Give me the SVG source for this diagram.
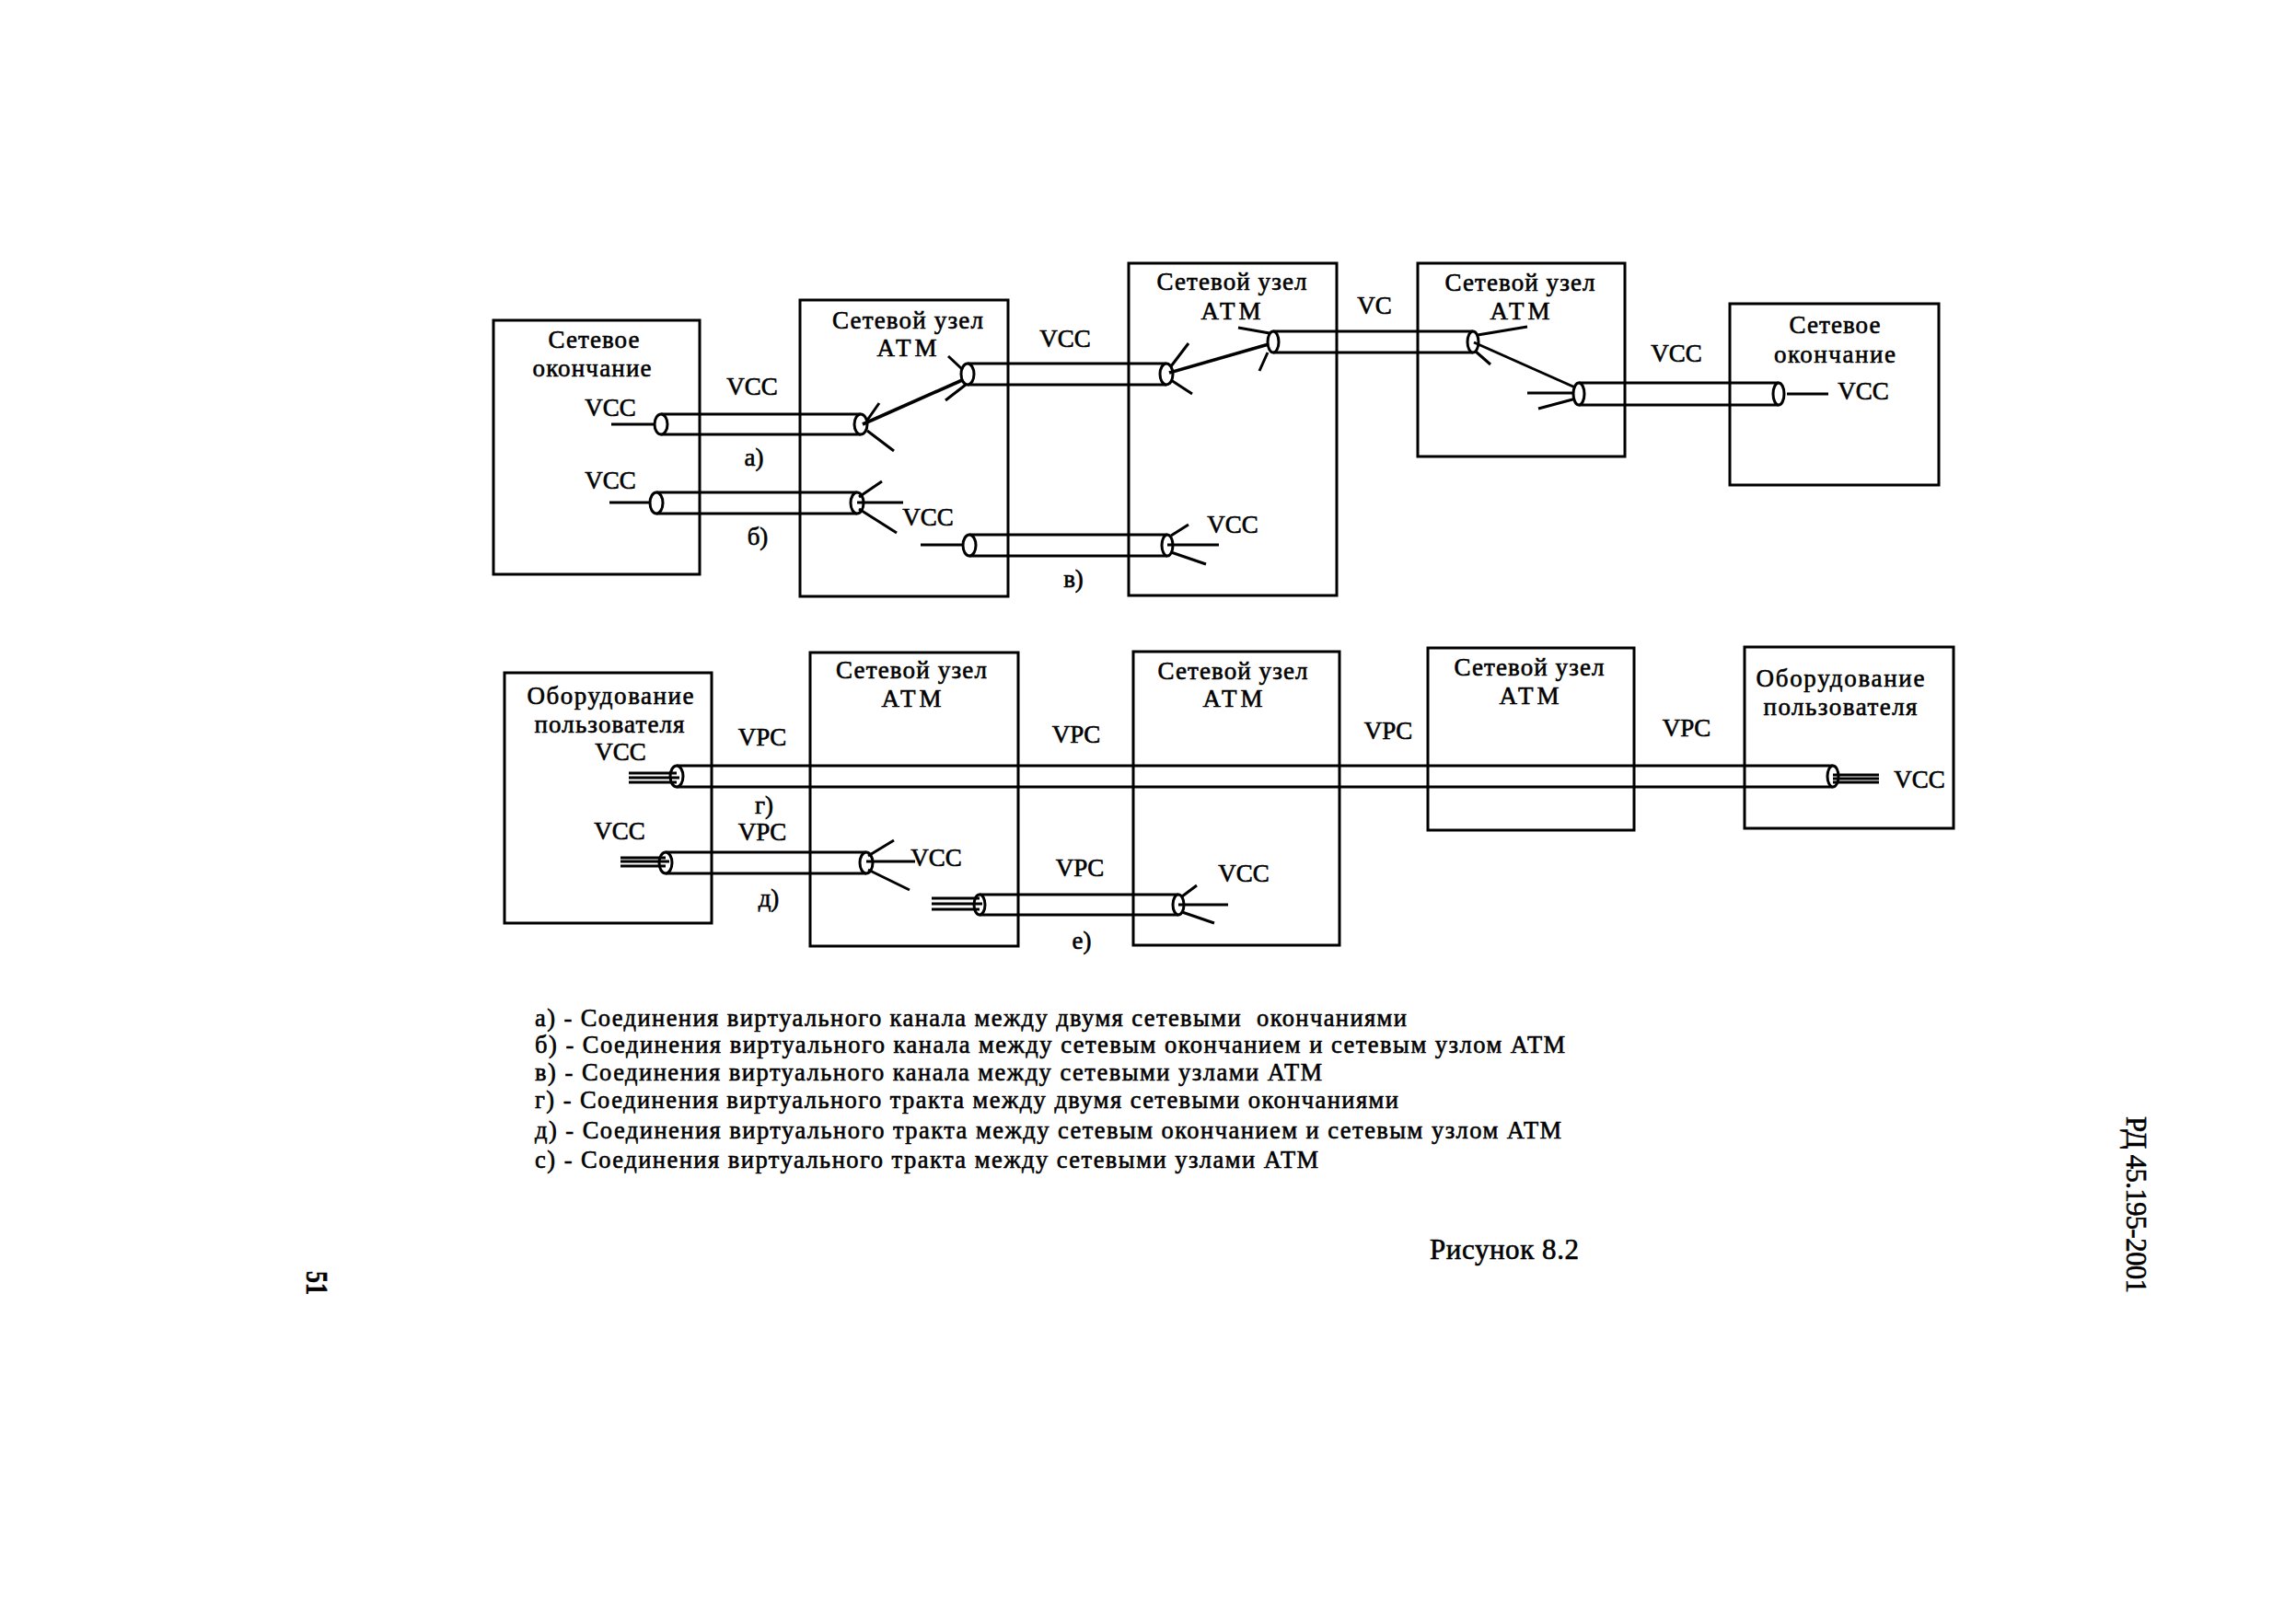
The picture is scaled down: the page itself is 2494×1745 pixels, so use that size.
<svg xmlns="http://www.w3.org/2000/svg" width="2494" height="1745" viewBox="0 0 2494 1745">
<style>
text{font-family:"Liberation Serif","Noto Sans CJK SC",serif;font-size:27px;fill:#000;stroke:#000;stroke-width:.6;text-anchor:middle}
.l{text-anchor:start;font-size:26.5px}
.b{fill:none;stroke:#000;stroke-width:3}
.c{stroke:#000;stroke-width:3;fill:none}
.t{stroke-width:3.6}
.e{fill:#fff;stroke:#000;stroke-width:3}
</style>
<rect width="2494" height="1745" fill="#fff"/>
<g id="node-endpoint-1"><rect class="b" x="536" y="348" width="224" height="276"/><text x="645" y="378" textLength="99">Сетевое</text><text x="643" y="409" textLength="129">окончание</text></g>
<g id="node-atm-1"><rect class="b" x="869" y="326" width="226" height="322"/><text x="986" y="357" textLength="164">Сетевой узел</text><text x="985" y="387" textLength="65">ATM</text></g>
<g id="node-atm-2"><rect class="b" x="1226" y="286" width="226" height="361"/><text x="1338" y="315" textLength="163">Сетевой узел</text><text x="1337" y="347" textLength="65">ATM</text></g>
<g id="node-atm-3"><rect class="b" x="1540" y="286" width="225" height="210"/><text x="1651" y="316" textLength="163">Сетевой узел</text><text x="1651" y="347" textLength="65">ATM</text></g>
<g id="node-endpoint-2"><rect class="b" x="1879" y="330" width="227" height="197"/><text x="1993" y="362" textLength="99">Сетевое</text><text x="1993" y="394" textLength="132">окончание</text></g>
<g id="node-user-1"><rect class="b" x="548" y="731" width="225" height="272"/><text x="663" y="765" textLength="181">Оборудование</text><text x="662" y="796" textLength="163">пользователя</text></g>
<g id="node-atm-4"><rect class="b" x="880" y="709" width="226" height="319"/><text x="990" y="737" textLength="164">Сетевой узел</text><text x="990" y="768" textLength="65">ATM</text></g>
<g id="node-atm-5"><rect class="b" x="1231" y="708" width="224" height="319"/><text x="1339" y="738" textLength="163">Сетевой узел</text><text x="1339" y="768" textLength="65">ATM</text></g>
<g id="node-atm-6"><rect class="b" x="1551" y="704" width="224" height="198"/><text x="1661" y="734" textLength="163">Сетевой узел</text><text x="1661" y="765" textLength="65">ATM</text></g>
<g id="node-user-2"><rect class="b" x="1895" y="703" width="227" height="197"/><text x="1999" y="746" textLength="183">Оборудование</text><text x="1999" y="777" textLength="167">пользователя</text></g>
<g id="connectors">
<!-- a, first span -->
<path class="c" d="M718 450H935M718 472H935M664 461H716M941 458L955 438M942 468L971 490"/>
<ellipse class="e" cx="718" cy="461" rx="7" ry="11"/><ellipse class="e" cx="935" cy="461" rx="7" ry="11"/>
<path class="c t" d="M937 461L1052 410"/>
<!-- a, second span -->
<path class="c" d="M1051 395H1267M1051 418H1267M1030 387L1045 401M1027 435L1049 418M1272 398L1291 373M1272 413L1295 428"/>
<ellipse class="e" cx="1051" cy="406.500" rx="7" ry="11.500"/><ellipse class="e" cx="1267" cy="406.500" rx="7" ry="11.500"/>
<path class="c t" d="M1270 405L1385 372"/>
<!-- a, third span -->
<path class="c" d="M1383 360H1600M1383 383H1600M1345 356L1379 362M1368 403L1377 383M1605 364L1659 355M1603 382L1619 396"/>
<ellipse class="e" cx="1383" cy="371.500" rx="6" ry="11.500"/><ellipse class="e" cx="1600" cy="371.500" rx="6" ry="11.500"/>
<path class="c" d="M1601 372L1711 421"/>
<!-- a, fourth span -->
<path class="c" d="M1715 416H1932M1715 440H1932M1941 428H1986M1659 427H1712M1671 444L1712 433"/>
<ellipse class="e" cx="1715" cy="428" rx="6" ry="12"/><ellipse class="e" cx="1932" cy="428" rx="6" ry="12"/>
<!-- b -->
<path class="c" d="M713 535H931M713 558H931M662 546H707"/>
<ellipse class="e" cx="713" cy="546.500" rx="7" ry="11.500"/><ellipse class="e" cx="931" cy="546.500" rx="7" ry="11.500"/>
<path class="c" d="M931 546H981M933 540L958 523M933 553L974 579"/>
<!-- v -->
<path class="c" d="M1053 581H1268M1053 604H1268M1000 592H1047"/>
<ellipse class="e" cx="1053" cy="592.500" rx="7" ry="11.500"/><ellipse class="e" cx="1268" cy="592.500" rx="6" ry="11.500"/>
<path class="c" d="M1268 592H1324M1272 582L1291 570M1272 600L1310 613"/>
<!-- g -->
<path class="c" d="M735 832H1991M735 855H1991"/>
<ellipse class="e" cx="735" cy="843.500" rx="7" ry="11.500"/><ellipse class="e" cx="1991" cy="843.500" rx="6" ry="11.500"/>
<path class="c" d="M683 840H735M683 845H738M683 850H735M1991 842H2041M1991 846H2041M1991 850H2041"/>
<!-- d -->
<path class="c" d="M723 926H941M723 949H941"/>
<ellipse class="e" cx="723" cy="937.500" rx="7" ry="11.500"/><ellipse class="e" cx="941" cy="937.500" rx="7" ry="11.500"/>
<path class="c" d="M674 932H723M674 936H727M674 941H723M943 930L971 913M941 936H994M943 945L988 967"/>
<!-- e -->
<path class="c" d="M1064 972H1280M1064 994H1280"/>
<ellipse class="e" cx="1064" cy="983" rx="6" ry="11"/><ellipse class="e" cx="1280" cy="983" rx="6" ry="11"/>
<path class="c" d="M1012 976H1064M1012 982H1067M1012 988H1064M1284 974L1300 962M1280 983H1334M1284 991L1319 1003"/>
</g>
<g id="labels">
<text x="663" y="452">VCC</text><text x="817" y="429">VCC</text><text x="819" y="506">а)</text><text x="663" y="531">VCC</text><text x="823" y="592">б)</text>
<text x="1008" y="571">VCC</text><text x="1157" y="377">VCC</text><text x="1166" y="638">в)</text><text x="1339" y="579">VCC</text><text x="1493" y="341">VC</text>
<text x="1821" y="393">VCC</text><text x="2024" y="434">VCC</text>
<text x="674" y="826">VCC</text><text x="828" y="810">VPC</text><text x="830" y="884">г)</text><text x="673" y="912">VCC</text><text x="828" y="913">VPC</text><text x="1017" y="941">VCC</text><text x="835" y="985">д)</text>
<text x="1169" y="807">VPC</text><text x="1173" y="952">VPC</text><text x="1175" y="1031">е)</text><text x="1351" y="958">VCC</text>
<text x="1508" y="803">VPC</text><text x="1832" y="800">VPC</text><text x="2085" y="856">VCC</text>
</g>
<g id="caption">
<text class="l" x="581" y="1115" textLength="947" style="white-space:pre">а) - Соединения виртуального канала между двумя сетевыми  окончаниями</text>
<text class="l" x="581" y="1144" textLength="1119">б) - Соединения виртуального канала между сетевым окончанием и сетевым узлом АТМ</text>
<text class="l" x="581" y="1174" textLength="855">в) - Соединения виртуального канала между сетевыми узлами АТМ</text>
<text class="l" x="581" y="1204" textLength="938">г) - Соединения виртуального тракта между двумя сетевыми окончаниями</text>
<text class="l" x="581" y="1237" textLength="1115">д) - Соединения виртуального тракта между сетевым окончанием и сетевым узлом АТМ</text>
<text class="l" x="581" y="1269" textLength="851">с) - Соединения виртуального тракта между сетевыми узлами АТМ</text>
<text class="l" x="1553" y="1368" style="font-size:31px" textLength="162">Рисунок 8.2</text>
<text class="l" transform="translate(2310 1213) rotate(90)" style="font-size:31px" textLength="192">РД 45.195-2001</text>
<text class="l" transform="translate(333 1381) rotate(90)" style="font-size:34px;font-weight:bold" textLength="26" lengthAdjust="spacingAndGlyphs">51</text>
</g>
</svg>
